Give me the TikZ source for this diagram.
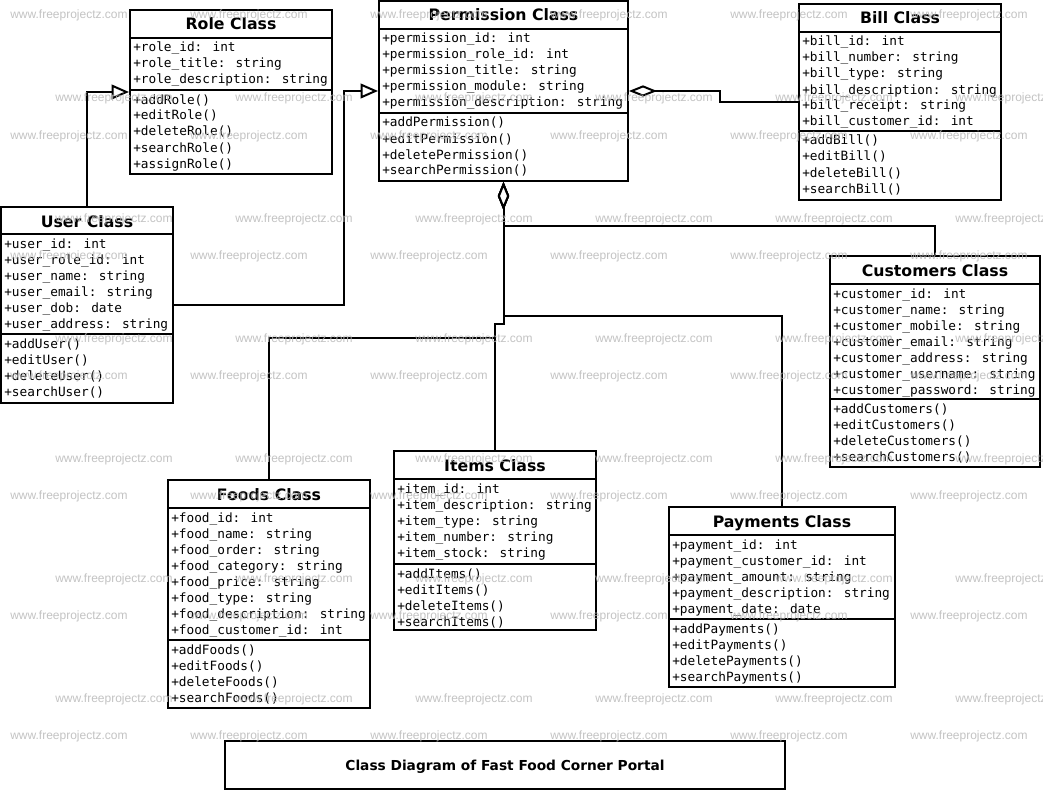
\documentclass[tikz,border=0pt]{standalone}
\usepackage{fontspec}
\setmainfont{DejaVu Sans}
\newfontfamily\umlmono{DejaVu Sans Mono}
\newfontfamily\wmfont{Liberation Sans}
\usetikzlibrary{arrows.meta,fit,calc}

\newcommand\umlbox[8]{%
  \node[box, fit={(#2,#3) (#4,#7)}] (#1) {};
  \draw[sep] (#2,#5) -- (#4,#5);
  \draw[sep] (#2,#6) -- (#4,#6);
  \node[hdr] (#1-title) at ({(#2+#4)/2},#3+20) {#8};
}
\newcommand\umlrows[4]{%
  \foreach \t [count=\i] in {#4} {\node[row] (#1-\i) at (#2,#3+16*\i-16) {\t};}
}

\begin{document}
\begin{tikzpicture}[x=0.75pt,y=-0.75pt,
  box/.style={draw, line width=1.5pt, inner sep=0pt},
  sep/.style={line width=1.5pt},
  hdr/.style={font=\fontsize{11.8}{14}\selectfont\bfseries, inner sep=0pt, anchor=base},
  row/.style={font=\umlmono\fontsize{9.57}{12}\selectfont, inner sep=0pt, anchor=base west},
  gen/.style={line width=1.5pt, -{Triangle[open, length=13pt, width=11pt, fill=white]}},
  agg/.style={line width=1.5pt, {Diamond[open, length=21pt, width=8.5pt, fill=white]}-},
  wm/.style={font=\wmfont\fontsize{9}{10}\selectfont, text=gray!55, opacity=0.85, anchor=base west, inner sep=0pt}
]
\path[use as bounding box, fill=white] (0,0) rectangle (1043,792);

% Role
\umlbox{role}{130}{10}{332}{38}{90}{174}{Role Class}
\umlrows{role-a}{133}{52}{+role\_id: int,+role\_title: string,+role\_description: string}
\umlrows{role-m}{133}{104}{+addRole(),+editRole(),+deleteRole(),+searchRole(),+assignRole()}

% Permission
\umlbox{perm}{379}{1}{628}{29}{113}{181}{Permission Class}
\umlrows{perm-a}{382}{43}{+permission\_id: int,+permission\_role\_id: int,+permission\_title: string,+permission\_module: string,+permission\_description: string}
\umlrows{perm-m}{382}{127}{+addPermission(),+editPermission(),+deletePermission(),+searchPermission()}

% Bill
\umlbox{bill}{799}{4}{1001}{32}{131}{200}{Bill Class}
\umlrows{bill-a}{802}{46}{+bill\_id: int,+bill\_number: string,+bill\_type: string,+bill\_description: string,+bill\_receipt: string,+bill\_customer\_id: int}
\umlrows{bill-m}{802}{145}{+addBill(),+editBill(),+deleteBill(),+searchBill()}

% User
\umlbox{user}{1}{207}{173}{234}{334}{403}{User Class}
\umlrows{user-a}{4}{248}{+user\_id: int,+user\_role\_id: int,+user\_name: string,+user\_email: string,+user\_dob: date,+user\_address: string}
\umlrows{user-m}{4}{348}{+addUser(),+editUser(),+deleteUser(),+searchUser()}

% Customers
\umlbox{cust}{830}{256}{1040}{284}{399}{467}{Customers Class}
\umlrows{cust-a}{833}{298}{+customer\_id: int,+customer\_name: string,+customer\_mobile: string,+customer\_email: string,+customer\_address: string,+customer\_username: string,+customer\_password: string}
\umlrows{cust-m}{833}{413}{+addCustomers(),+editCustomers(),+deleteCustomers(),+searchCustomers()}

% Items
\umlbox{items}{394}{451}{596}{479}{564}{630}{Items Class}
\umlrows{items-a}{397}{493}{+item\_id: int,+item\_description: string,+item\_type: string,+item\_number: string,+item\_stock: string}
\umlrows{items-m}{397}{578}{+addItems(),+editItems(),+deleteItems(),+searchItems()}

% Foods
\umlbox{foods}{168}{480}{370}{508}{640}{708}{Foods Class}
\umlrows{foods-a}{171}{522}{+food\_id: int,+food\_name: string,+food\_order: string,+food\_category: string,+food\_price: string,+food\_type: string,+food\_description: string,+food\_customer\_id: int}
\umlrows{foods-m}{171}{654}{+addFoods(),+editFoods(),+deleteFoods(),+searchFoods()}

% Payments
\umlbox{pay}{669}{507}{895}{535}{619}{687}{Payments Class}
\umlrows{pay-a}{672}{549}{+payment\_id: int,+payment\_customer\_id: int,+payment\_amount: string,+payment\_description: string,+payment\_date: date}
\umlrows{pay-m}{672}{633}{+addPayments(),+editPayments(),+deletePayments(),+searchPayments()}

% Title
\node[box, fit={(225,741) (785,789)}] (titlebox) {};
\node[font=\fontsize{10.3}{12}\selectfont\bfseries, inner sep=0pt, anchor=base] (title) at (505,770) {Class Diagram of Fast Food Corner Portal};

% Connectors
\draw[gen] (user.north) |- (role.west);
\draw[gen] (user.east) -| (344,91) -- (perm.west);
\draw[agg] (perm.east) -- (720,91) |- (bill.west);
\draw[agg] (perm.south) -- ++(0,44) -| (cust.north);
\draw[agg] (perm.south) -- ++(0,134) -| (pay.north);
\draw[agg] (perm.south) -- ++(0,142) -| (items.north);
\draw[agg] (perm.south) -- ++(0,142) -| (495,338) -| (foods.north);

% Watermarks
\foreach \r in {0,...,6} \foreach \c in {0,...,5}
  \node[wm] (wa\r\c) at (10+180*\c,19+120*\r) {www.freeprojectz.com};
\foreach \r in {0,...,5} \foreach \c in {0,...,5}
  \node[wm] (wb\r\c) at (55+180*\c,102+120*\r) {www.freeprojectz.com};
\end{tikzpicture}
\end{document}
